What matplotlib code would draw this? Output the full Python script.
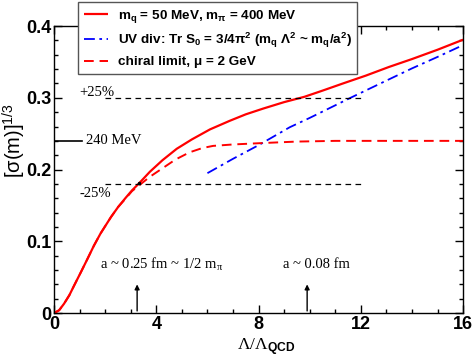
import numpy as np
import matplotlib
matplotlib.use('Agg')
import matplotlib.pyplot as plt

plt.rcParams['mathtext.fontset'] = 'custom'
plt.rcParams['mathtext.rm'] = 'Liberation Sans'
plt.rcParams['mathtext.bf'] = 'Liberation Sans:bold'
plt.rcParams['mathtext.it'] = 'Liberation Sans:italic'

# red solid: m_q = 50 MeV, m_pi = 400 MeV
x_full = [0, 0.2, 0.39, 0.6, 0.78, 1.05, 1.3, 1.56, 1.82, 2.23, 2.51, 2.81, 3.05, 3.33, 3.75,
          4.24, 4.8, 5.39, 6.1, 6.875, 7.5, 8.18, 9.0, 9.8, 10.5, 11.3, 12.2, 13.1, 14.0,
          15.0, 16.0]
y_full = [0, 0.004, 0.013, 0.025, 0.038, 0.057, 0.075, 0.094, 0.111, 0.134, 0.148, 0.161,
          0.171, 0.181, 0.197, 0.213, 0.229, 0.242, 0.256, 0.268, 0.277, 0.285, 0.294, 0.3015,
          0.310, 0.320, 0.331, 0.343, 0.354, 0.367, 0.381]

# blue dash-dot: UV divergence
x_uv = [6.0, 7.0, 8.0, 9.22, 10.0, 11.63, 13.0, 14.0, 15.0, 16.0]
y_uv = [0.195, 0.215, 0.234, 0.259, 0.272, 0.3006, 0.324, 0.341, 0.357, 0.3735]

# red dashed: chiral limit
x_chi = [0, 0.2, 0.39, 0.6, 0.78, 1.05, 1.3, 1.56, 1.82, 2.23, 2.51, 2.81, 3.05, 3.33, 3.75,
         4.25, 4.75, 5.3, 5.8, 6.22, 7.0, 8.18, 9.48, 11.0, 13.0, 16.0]
y_chi = [0, 0.004, 0.013, 0.025, 0.038, 0.057, 0.075, 0.094, 0.111, 0.134, 0.148, 0.160,
         0.170, 0.178, 0.190, 0.202, 0.214, 0.224, 0.230, 0.233, 0.235, 0.237, 0.239, 0.240,
         0.240, 0.240]

ref_levels = [0.30, 0.18]
ref_labels = ['+25%', '-25%']
arrow_x = [3.25, 9.9]
arrow_labels = [r'a ~ 0.25 fm ~ 1/2 m$_\mathregular{π}$', 'a ~ 0.08 fm']

fig = plt.figure(figsize=(4.74, 3.57), dpi=100)
ax = fig.add_axes([0.114, 0.123, 0.863, 0.804])

l1, = ax.plot(x_full, y_full, color='red', lw=1.6, solid_capstyle='butt')
l2, = ax.plot(x_uv, y_uv, color='blue', lw=1.3, dashes=(6, 2.5, 1.5, 2.5))
l3, = ax.plot(x_chi, y_chi, color='red', lw=1.4, dashes=(5, 3))

serif = 'Liberation Serif'
for lev, lab, dy in zip(ref_levels, ref_labels, [0.007, -0.014]):
    ax.plot([2.0, 12.0], [lev, lev], color='black', lw=0.9, dashes=(4.5, 3.5))
    ax.text(1.0, lev + dy, lab, family=serif, fontsize=10.5, ha='left', va='center')
ax.plot([3.33], [0.181], 'k.', ms=3)

ax.plot([0, 1.08], [0.24, 0.24], color='black', lw=1.2)
ax.text(1.25, 0.24, '240 MeV', family=serif, fontsize=10.5, ha='left', va='center')

for xa, lab, xt in zip(arrow_x, arrow_labels, [1.8, 8.95]):
    ax.annotate('', xy=(xa, 0.04), xytext=(xa, 0.003),
                arrowprops=dict(arrowstyle='-|>', color='black', lw=1.0,
                                mutation_scale=7, shrinkA=0, shrinkB=0))
    ax.text(xt, 0.068, lab, family=serif, fontsize=10.5, ha='left', va='center')

ax.set_xlim(0, 16)
ax.set_ylim(0, 0.4)
ax.set_xticks([0, 4, 8, 12, 16])
ax.set_xticklabels(['0', '4', '8', '12', '16'])
ax.set_yticks([0, 0.1, 0.2, 0.3, 0.4])
ax.set_yticklabels(['0', '0.1', '0.2', '0.3', '0.4'])
ax.set_xticks(np.arange(0, 17, 1), minor=True)
ax.set_yticks(np.arange(0, 0.41, 0.02), minor=True)
ax.tick_params(which='both', direction='in', top=True, right=True, width=1.0)
ax.tick_params(which='major', length=6, pad=2)
ax.tick_params(which='minor', length=3)
for lab in ax.get_xticklabels() + ax.get_yticklabels():
    lab.set_family('Liberation Sans')
    lab.set_fontweight('bold')
    lab.set_fontsize(13)
for s in ax.spines.values():
    s.set_linewidth(1.0)

ax.set_ylabel(r'[$\mathregular{σ}$(m)]$^\mathregular{1/3}$', family='Liberation Sans',
              fontsize=14.5)
ax.yaxis.set_label_coords(-0.064, 0.6)
ax.set_xlabel(r'$\mathregular{Λ/Λ}_{\mathbf{QCD}}$', family=serif, fontsize=12.5)
ax.xaxis.set_label_coords(0.52, -0.082)

leg = fig.legend([l1, l2, l3],
                 [r'm$_\mathregular{q}$ = 50 MeV, m$_\mathregular{π}$ = 400 MeV',
                  r'UV div: Tr S$_\mathregular{0}$ = 3/4π$^\mathregular{2}$ (m$_\mathregular{q}$ Λ$^\mathregular{2}$ ~ m$_\mathregular{q}$/a$^\mathregular{2}$)',
                  r'chiral limit, μ = 2 GeV'],
                 loc='upper left', bbox_to_anchor=(0.165, 0.994),
                 prop={'family': 'Liberation Sans', 'weight': 'bold', 'size': 9.7},
                 frameon=True, fancybox=False, edgecolor='#555555', framealpha=1,
                 handlelength=1.8, handletextpad=0.75, labelspacing=0.45,
                 borderpad=0.4, borderaxespad=0)
leg.get_frame().set_linewidth(1.0)

fig.savefig('out.png', dpi=100)
